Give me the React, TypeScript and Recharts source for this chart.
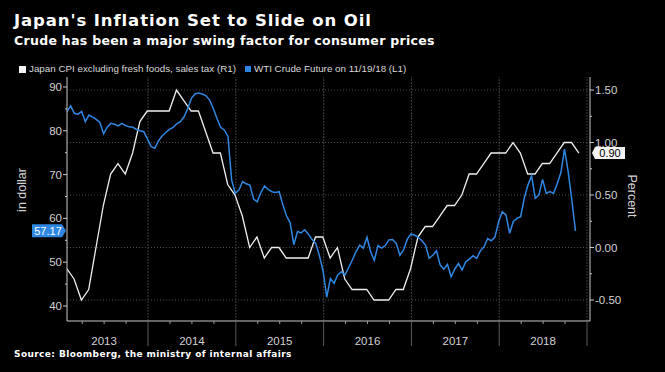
import React from "react";
import { ComposedChart, Line, XAxis, YAxis, ReferenceLine, ReferenceDot } from "recharts";

// Japan core CPI ex fresh food & sales tax, % y/y, monthly from Jan 2013 (right axis)
const CPI_START = 2013.074;
const CPI = [
  -0.2, -0.3, -0.5, -0.4, 0.0, 0.4, 0.7, 0.8, 0.7, 0.9, 1.2, 1.3,
  1.3, 1.3, 1.3, 1.5, 1.4, 1.3, 1.3, 1.1, 0.9, 0.9, 0.6, 0.5,
  0.3, 0.0, 0.1, -0.1, 0.0, 0.0, -0.1, -0.1, -0.1, -0.1, 0.1, 0.1,
  -0.1, 0.0, -0.3, -0.4, -0.4, -0.4, -0.5, -0.5, -0.5, -0.4, -0.4, -0.2,
  0.1, 0.2, 0.2, 0.3, 0.4, 0.4, 0.5, 0.7, 0.7, 0.8, 0.9, 0.9,
  0.9, 1.0, 0.9, 0.7, 0.7, 0.8, 0.8, 0.9, 1.0, 1.0, 0.9,
];

// WTI crude future, $/bbl, twice a month from Jan 2013 (left axis)
const OIL_START = 2013.077;
const OIL = [
  84.4, 85.7, 84.0, 83.8, 84.4, 82.1, 83.6, 83.1, 82.6, 81.9,
  79.3, 80.9, 81.7, 81.5, 81.1, 81.7, 81.2, 80.9, 80.8, 80.3,
  80.0, 79.8, 78.1, 76.4, 76.0, 77.7, 78.8, 79.6, 80.3, 80.8,
  81.6, 82.1, 83.2, 85.1, 87.4, 88.4, 88.6, 88.4, 88.0, 87.0,
  85.1, 82.8, 80.8, 80.2, 78.7, 68.8, 65.7, 66.5, 68.4, 67.9,
  67.6, 64.4, 63.8, 65.9, 67.4, 66.6, 66.1, 65.9, 66.1, 63.1,
  60.6, 59.0, 54.0, 57.0, 56.7, 57.4, 56.4, 55.2, 54.3, 51.5,
  48.0, 42.0, 46.3, 45.2, 47.1, 47.8, 47.1, 48.8, 50.5, 52.4,
  53.9, 53.2, 55.7, 52.4, 50.4, 53.8, 53.2, 53.8, 55.1, 55.2,
  54.3, 51.6, 52.8, 55.2, 56.4, 56.2, 55.7, 54.9, 53.9, 50.9,
  51.6, 52.6, 49.4, 48.4, 49.5, 46.7, 48.4, 49.7, 48.2, 50.1,
  50.7, 51.5, 50.9, 52.6, 53.5, 55.4, 54.9, 55.8, 59.3, 61.5,
  60.8, 56.6, 59.3, 60.0, 60.4, 64.6, 67.6, 69.7, 64.6, 65.3,
  68.9, 65.7, 66.1, 65.7, 67.9, 70.4, 75.8, 70.7, 64.2, 57.17,
];

const YEARS = [2013, 2014, 2015, 2016, 2017, 2018];
const YEAR_LINES = [2014, 2015, 2016, 2017, 2018, 2019];
const LEFT_TICKS = [40, 45, 50, 55, 60, 65, 70, 75, 80, 85, 90];
const RIGHT_TICKS = [-0.5, -0.25, 0, 0.25, 0.5, 0.75, 1, 1.25, 1.5];
const RIGHT_GRID = [-0.5, 0, 0.5, 1, 1.5];

const X_DOMAIN = [2013.077, 2019.034];
const QUARTERS = YEARS.flatMap((y) => [y + 0.25, y + 0.5, y + 0.75, y + 1]);

const cpiData = CPI.map((v, i) => ({ t: CPI_START + i / 12, cpi: v }));
const oilData = OIL.map((v, i) => ({ t: OIL_START + i / 24, oil: v }));

const BLUE = "#2f87e2";
const AXIS = "#c8c8c8";
const TXT = "#d2d2d2";
const FONT = "'Liberation Sans', Arial, sans-serif";
const HEAD = "'DejaVu Sans', Verdana, sans-serif";

function LeftTick({ x, y, payload }: any) {
  const major = payload.value % 10 === 0;
  return (
    <g>
      <line x1={x} x2={x - (major ? 4 : 2)} y1={y} y2={y} stroke={AXIS} />
      {major && (
        <text x={x - 5} y={y + 4} textAnchor="end" fill={TXT} fontSize={11.5} fontFamily={FONT}>
          {payload.value}
        </text>
      )}
    </g>
  );
}

function RightTick({ x, y, payload }: any) {
  const major = Math.abs(payload.value * 2 - Math.round(payload.value * 2)) < 1e-6;
  return (
    <g>
      <line x1={x} x2={x + (major ? 4 : 2)} y1={y} y2={y} stroke={AXIS} />
      {major && (
        <text x={x + 5} y={y + 4} textAnchor="start" fill={TXT} fontSize={11.5} fontFamily={FONT}>
          {payload.value.toFixed(2)}
        </text>
      )}
    </g>
  );
}

function BottomTick({ x, y, payload }: any) {
  const v = payload.value;
  const frac = Math.round((v - Math.floor(v)) * 100) / 100;
  if (frac === 0) {
    return <line x1={x} x2={x} y1={y} y2={y + 25} stroke="#5a5a5a" />;
  }
  return (
    <g>
      <line x1={x} x2={x} y1={y} y2={y + 3} stroke="#9a9a9a" />
      {frac === 0.5 && (
        <text x={x} y={y + 24} textAnchor="middle" fill={TXT} fontSize={11.5} fontFamily={FONT}>
          {Math.floor(v)}
        </text>
      )}
    </g>
  );
}

function OilTag({ cx, cy }: any) {
  const value = OIL[OIL.length - 1];
  return (
    <g>
      <polygon
        points={`${cx - 1},${cy} ${cx - 5},${cy - 6.5} ${cx - 35},${cy - 6.5} ${cx - 35},${cy + 6.5} ${cx - 5},${cy + 6.5}`}
        fill={BLUE}
      />
      <text x={cx - 19} y={cy + 4} textAnchor="middle" fill="#fff" fontSize={11} fontFamily={FONT}>
        {value.toFixed(2)}
      </text>
    </g>
  );
}

function CpiTag({ cx, cy }: any) {
  const value = CPI[CPI.length - 1];
  return (
    <g>
      <polygon
        points={`${cx + 2},${cy} ${cx + 5},${cy - 6} ${cx + 35},${cy - 6} ${cx + 35},${cy + 6} ${cx + 5},${cy + 6}`}
        fill="#f4f4f4"
      />
      <text x={cx + 20} y={cy + 4} textAnchor="middle" fill="#000" fontSize={11} fontFamily={FONT}>
        {value.toFixed(2)}
      </text>
    </g>
  );
}

export default function App() {
  return (
    <div style={{ position: "relative", width: 665, height: 372, background: "#000", overflow: "hidden" }}>
      <style>{`body{margin:0;background:#000}`}</style>
      <div style={{ position: "absolute", left: 14, top: 12, fontFamily: HEAD, fontWeight: 700, fontSize: 16.5, letterSpacing: 0.9, lineHeight: "17px", color: "#fff", whiteSpace: "nowrap" }}>
        Japan's Inflation Set to Slide on Oil
      </div>
      <div style={{ position: "absolute", left: 14, top: 34, fontFamily: HEAD, fontWeight: 700, fontSize: 12.5, letterSpacing: 0.3, lineHeight: "13px", color: "#fff", whiteSpace: "nowrap" }}>
        Crude has been a major swing factor for consumer prices
      </div>
      <div style={{ position: "absolute", left: 19, top: 64, fontFamily: FONT, fontSize: 9.8, lineHeight: "10px", color: "#d8d8d8", whiteSpace: "nowrap", display: "flex", alignItems: "center" }}>
        <span style={{ display: "inline-block", width: 7, height: 7, background: "#f4f4f4", marginRight: 3 }} />
        <span>Japan CPI excluding fresh foods, sales tax (R1)</span>
        <span style={{ display: "inline-block", width: 6, height: 6, background: BLUE, marginLeft: 9, marginRight: 3 }} />
        <span>WTI Crude Future on 11/19/18 (L1)</span>
      </div>
      <div style={{ position: "absolute", left: 14, top: 349, fontFamily: HEAD, fontWeight: 700, fontSize: 9, letterSpacing: 0.4, lineHeight: "10px", color: "#fff", whiteSpace: "nowrap" }}>
        Source: Bloomberg, the ministry of internal affairs
      </div>

      <div style={{ position: "absolute", left: 0, top: 0 }}>
        <ComposedChart width={665} height={372} margin={{ top: 77, right: 30, bottom: 21, left: 0 }}>
          <XAxis
            type="number"
            dataKey="t"
            domain={X_DOMAIN}
            allowDataOverflow
            ticks={QUARTERS}
            interval={0}
            height={30}
            tickSize={0}
            tickMargin={0}
            tick={<BottomTick />}
            axisLine={{ stroke: AXIS }}
          />
          <YAxis
            yAxisId="L"
            orientation="left"
            width={67}
            domain={[36.58, 92.28]}
            allowDataOverflow
            ticks={LEFT_TICKS}
            interval={0}
            tickSize={0}
            tickMargin={0}
            tick={<LeftTick />}
            axisLine={{ stroke: AXIS }}
          />
          <YAxis
            yAxisId="R"
            orientation="right"
            width={45}
            domain={[-0.7, 1.624]}
            allowDataOverflow
            ticks={RIGHT_TICKS}
            interval={0}
            tickSize={0}
            tickMargin={0}
            tick={<RightTick />}
            axisLine={{ stroke: AXIS }}
          />
          {RIGHT_GRID.map((g) => (
            <ReferenceLine key={`h${g}`} yAxisId="R" y={g} stroke="#4a4a4a" strokeDasharray="1 2" />
          ))}
          {YEAR_LINES.map((yr) => (
            <ReferenceLine key={`v${yr}`} yAxisId="R" x={yr} stroke="#3e3e3e" strokeDasharray="2 1" />
          ))}
          <Line
            yAxisId="R"
            data={cpiData}
            dataKey="cpi"
            type="linear"
            stroke="#efefef"
            strokeWidth={1.3}
            dot={false}
            isAnimationActive={false}
          />
          <Line
            yAxisId="L"
            data={oilData}
            dataKey="oil"
            type="linear"
            stroke={BLUE}
            strokeWidth={1.5}
            dot={false}
            isAnimationActive={false}
          />
          <ReferenceDot yAxisId="L" x={X_DOMAIN[0]} y={OIL[OIL.length - 1]} ifOverflow="visible" shape={<OilTag />} />
          <ReferenceDot yAxisId="R" x={X_DOMAIN[1]} y={CPI[CPI.length - 1]} ifOverflow="visible" shape={<CpiTag />} />
        </ComposedChart>
      </div>

      <svg width={665} height={372} style={{ position: "absolute", left: 0, top: 0, pointerEvents: "none" }}>
        <text transform="translate(26,190) rotate(-90)" textAnchor="middle" fill={TXT} fontSize={12.5} fontFamily={FONT}>
          in dollar
        </text>
        <text transform="translate(628,196) rotate(90)" textAnchor="middle" fill={TXT} fontSize={12.5} fontFamily={FONT}>
          Percent
        </text>
      </svg>
    </div>
  );
}
